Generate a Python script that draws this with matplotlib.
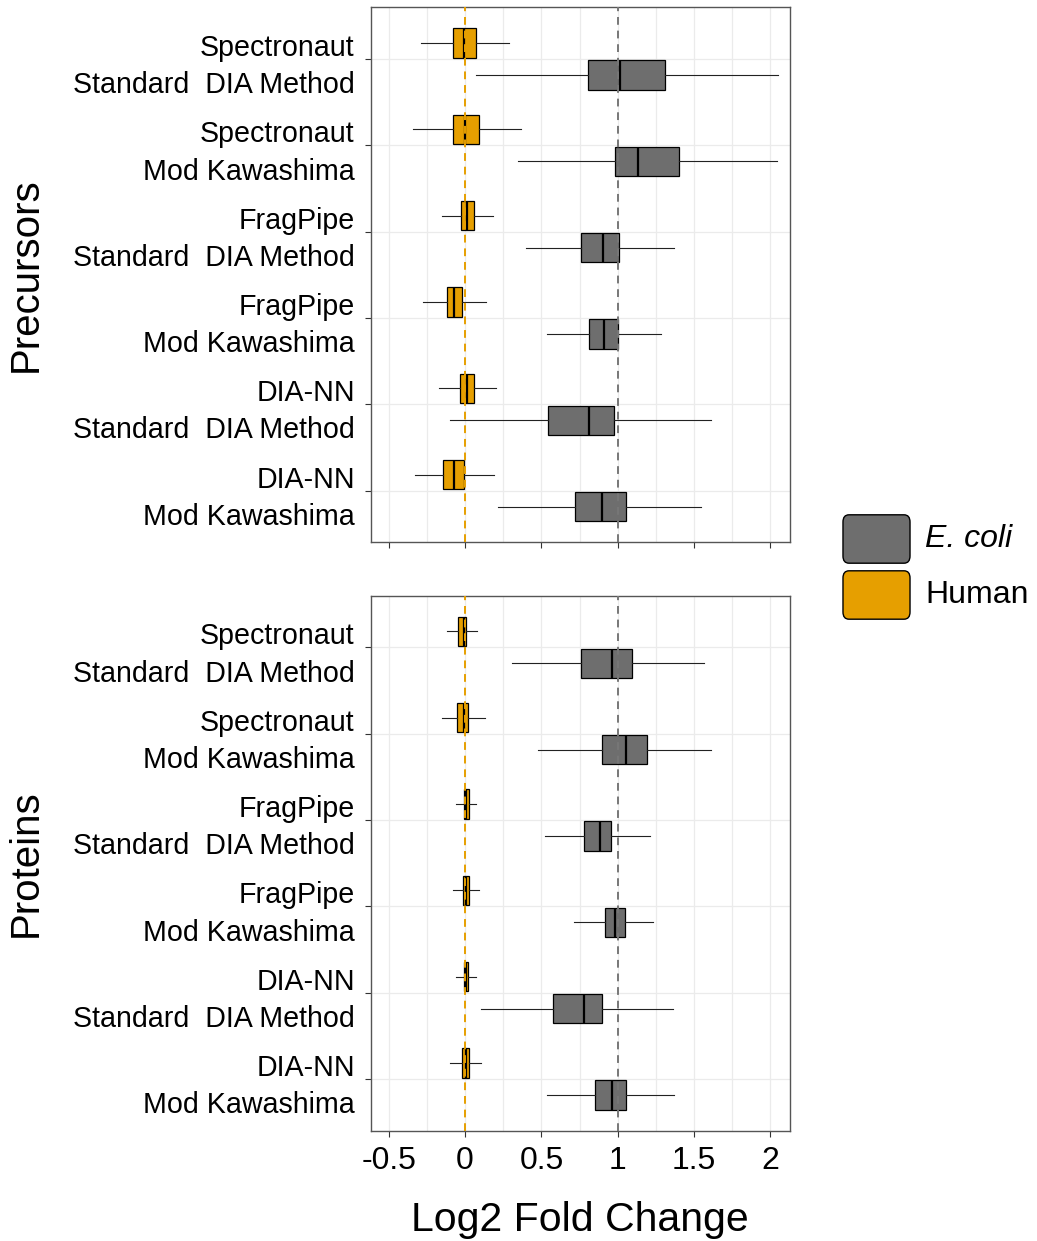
import numpy as np
import matplotlib
matplotlib.use('Agg')
from matplotlib import pyplot as plt
from matplotlib.patches import FancyBboxPatch

plt.rcParams['font.family'] = ['Liberation Sans', 'DejaVu Sans']

# Categories (top to bottom) and panels
categories = ['Spectronaut\nStandard  DIA Method', 'Spectronaut\nMod Kawashima',
              'FragPipe\nStandard  DIA Method', 'FragPipe\nMod Kawashima',
              'DIA-NN\nStandard  DIA Method', 'DIA-NN\nMod Kawashima']
panels = ['Precursors', 'Proteins']
species = ['E. coli', 'Human']
species_colors = ['#6E6E6E', '#E69F00']
expected = [1, 0]  # expected log2 fold change per species

# box stats per panel: [whislo, q1, med, q3, whishi] per category
prec_human = [[-0.288, -0.076, -0.004, 0.074, 0.286],
              [-0.341, -0.076, 0.000, 0.094, 0.369],
              [-0.148, -0.024, 0.015, 0.057, 0.181],
              [-0.273, -0.118, -0.072, -0.017, 0.135],
              [-0.168, -0.031, 0.013, 0.057, 0.201],
              [-0.330, -0.142, -0.074, -0.004, 0.188]]
prec_ecoli = [[0.074, 0.808, 1.017, 1.312, 2.048],
              [0.347, 0.985, 1.133, 1.404, 2.041],
              [0.400, 0.762, 0.906, 1.009, 1.371],
              [0.539, 0.814, 0.913, 1.004, 1.286],
              [-0.098, 0.546, 0.812, 0.974, 1.611],
              [0.218, 0.723, 0.900, 1.055, 1.548]]
prot_human = [[-0.120, -0.046, -0.009, 0.009, 0.081],
              [-0.151, -0.050, -0.004, 0.020, 0.129],
              [-0.057, -0.009, 0.007, 0.026, 0.070],
              [-0.081, -0.015, 0.007, 0.026, 0.094],
              [-0.057, -0.009, 0.007, 0.020, 0.070],
              [-0.098, -0.020, 0.007, 0.026, 0.105]]
prot_ecoli = [[0.306, 0.761, 0.963, 1.090, 1.567],
              [0.475, 0.897, 1.057, 1.190, 1.608],
              [0.521, 0.781, 0.884, 0.956, 1.210],
              [0.716, 0.915, 0.982, 1.046, 1.234],
              [0.105, 0.575, 0.777, 0.899, 1.361],
              [0.538, 0.851, 0.965, 1.057, 1.368]]
panel_data = [[prec_ecoli, prec_human], [prot_ecoli, prot_human]]

xticks = [-0.5, 0, 0.5, 1, 1.5, 2]
xticklabels = ['-0.5', '0', '0.5', '1', '1.5', '2']


def to_stats(rows):
    return [dict(whislo=r[0], q1=r[1], med=r[2], q3=r[3], whishi=r[4]) for r in rows]


fig = plt.figure(figsize=(10.37, 12.41), dpi=100)
axes_rects = [[0.3575, 0.5630, 0.4043, 0.4311], [0.3575, 0.0889, 0.4043, 0.4311]]
offsets = [0.185, -0.185]  # E. coli below, Human above (y inverted)

pos = np.arange(len(categories))
for p, (name, rect) in enumerate(zip(panels, axes_rects)):
    ax = fig.add_axes(rect)
    for s in range(len(species)):
        ax.bxp(to_stats(panel_data[p][s]), positions=pos + offsets[s], widths=0.34,
               orientation='horizontal', patch_artist=True, showcaps=False,
               showfliers=False,
               boxprops=dict(facecolor=species_colors[s], edgecolor='black', linewidth=0.9),
               whiskerprops=dict(color='#222222', linewidth=0.8),
               medianprops=dict(color='black', linewidth=1.6))
    for s in range(len(species)):
        ax.axvline(expected[s], color=species_colors[s] if s == 1 else '#777777',
                   linestyle=(0, (4, 3)), linewidth=1.4, zorder=5)

    ax.set_xlim(-0.618, 2.128)
    ax.set_ylim(len(categories) - 0.4, -0.6)
    ax.set_yticks(pos)
    ax.set_yticklabels(categories, fontsize=20.6)
    for lab in ax.get_yticklabels():
        lab.set_linespacing(1.42)
    ax.set_xticks(xticks)
    ax.set_xticks(np.arange(-0.25, 2.1, 0.5), minor=True)
    ax.grid(True, which='both', color='#EBEBEB', linewidth=0.9, zorder=0)
    ax.set_axisbelow(True)
    ax.tick_params(axis='both', which='major', length=4, color='#333333', width=0.8)
    ax.tick_params(axis='y', pad=7.5)
    ax.tick_params(axis='x', which='minor', length=0)
    for sp in ax.spines.values():
        sp.set_color('#555555')
        sp.set_linewidth(1.0)
    if p == 0:
        ax.set_xticklabels([])
    else:
        ax.set_xticklabels(xticklabels, fontsize=23)
        ax.tick_params(axis='x', pad=7)
        ax.set_xlabel('Log2 Fold Change', fontsize=29.5, labelpad=18)
    ax.set_ylabel(name, fontsize=29, labelpad=12)
    ax.yaxis.set_label_coords(-0.778, 0.5)

# legend with rounded keys
W, H = 1037, 1241
key_tops = [516, 572]
for s in range(len(species)):
    y0 = key_tops[s]
    box = FancyBboxPatch(((843 + 6) / W, 1 - (y0 + 46 - 6) / H), (67 - 12) / W, (46 - 12) / H,
                         boxstyle='round,pad=0.0058', transform=fig.transFigure,
                         facecolor=species_colors[s], edgecolor='black', linewidth=1.0)
    fig.patches.append(box)
    fig.text(925 / W, 1 - (y0 + 23) / H, species[s], fontsize=23, va='center', ha='left',
             style='italic' if s == 0 else 'normal')

fig.savefig('out.png', dpi=100)
